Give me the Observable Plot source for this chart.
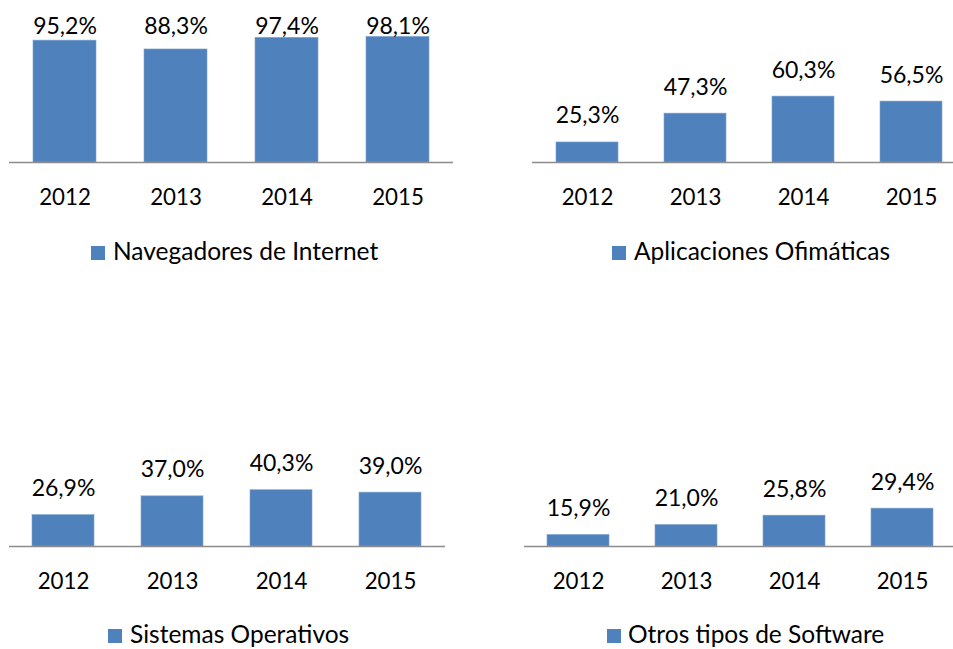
<!DOCTYPE html>
<html><head><meta charset="utf-8">
<script src="https://cdn.jsdelivr.net/npm/d3@7"></script>
<script src="https://cdn.jsdelivr.net/npm/@observablehq/plot@0.6"></script>
<style>
html,body{margin:0;padding:0;background:#fff;overflow:hidden}
#root{position:relative;width:953px;height:649px;overflow:hidden;font-family:Lato,sans-serif}
.panel{position:absolute}
.legend{position:absolute;height:14px;font-size:24.5px;color:#000;white-space:nowrap}
.legend .sw{position:absolute;left:0;top:0;width:14px;height:14px;background:#4F81BD}
.legend .tx{position:absolute;top:-10.5px;line-height:1.2}
</style></head><body><div id="root"></div>
<script>
const years = ["2012", "2013", "2014", "2015"];
const seriesNames = ["Navegadores de Internet", "Aplicaciones Ofimáticas", "Sistemas Operativos", "Otros tipos de Software"];
const navegadores = [95.2, 88.3, 97.4, 98.1];
const ofimaticas = [25.3, 47.3, 60.3, 56.5];
const sistemas = [26.9, 37.0, 40.3, 39.0];
const otros = [15.9, 21.0, 25.8, 29.4];
const seriesValues = [navegadores, ofimaticas, sistemas, otros];

const BLUE = "#4F81BD";
const layout = [
  {left: 0,   top: 0,   width: 460, ml: 9,  mr: 7,   domain: [0, 100], mt: 34, pinned: true, lgX: 91,  lgY: 246, txX: 22},
  {left: 480, top: 0,   width: 490, ml: 52, mr: 3.5, domain: [10, 70], mt: 83.4, pinned: false, lgX: 612, lgY: 246, txX: 22},
  {left: 0,   top: 384, width: 460, ml: 9,  mr: 15,  domain: [10, 45], mt: 97, pinned: false, lgX: 108, lgY: 629, txX: 22},
  {left: 480, top: 384, width: 490, ml: 44, mr: 13.7,domain: [10, 35], mt: 113.2, pinned: false, lgX: 607, lgY: 629, txX: 21}
];
const H = 215, MB = 53;
const fmt = v => v.toFixed(1).replace(".", ",") + "%";
const root = document.getElementById("root");

layout.forEach((L, i) => {
  const data = years.map((y, j) => ({year: y, value: seriesValues[i][j]}));
  const base = L.domain[0];
  const labelMark = L.pinned
    ? Plot.text(data, {x: "year", text: d => fmt(d.value), frameAnchor: "top", lineAnchor: "bottom", dy: -1, fontSize: 23, fill: "#000"})
    : Plot.text(data, {x: "year", y: "value", text: d => fmt(d.value), lineAnchor: "bottom", dy: -19, fontSize: 23, fill: "#000"});
  const chart = Plot.plot({
    width: L.width, height: H,
    marginLeft: L.ml, marginRight: L.mr, marginTop: L.mt, marginBottom: MB,
    style: {fontFamily: "Lato, sans-serif", background: "transparent", overflow: "visible"},
    x: {domain: years, paddingInner: 0.43, paddingOuter: 0.215, label: null},
    y: {domain: L.domain, axis: null},
    marks: [
      Plot.barY(data, {x: "year", y1: base, y2: "value", fill: BLUE, stroke: "#7FA2CE", strokeWidth: 0.6}),
      Plot.ruleY([base], {stroke: "#8C8C8C", strokeWidth: 1.6}),
      labelMark,
      Plot.axisX({tickSize: 0, tickPadding: 27, fontSize: 22.3, label: null, fill: "#000"})
    ]
  });
  chart.classList.add("panel");
  chart.style.left = L.left + "px";
  chart.style.top = L.top + "px";
  root.appendChild(chart);

  const lg = document.createElement("div");
  lg.className = "legend";
  lg.style.left = L.lgX + "px";
  lg.style.top = L.lgY + "px";
  lg.innerHTML = `<div class="sw"></div><div class="tx" style="left:${L.txX}px">${seriesNames[i]}</div>`;
  root.appendChild(lg);
});
</script>
</body></html>
